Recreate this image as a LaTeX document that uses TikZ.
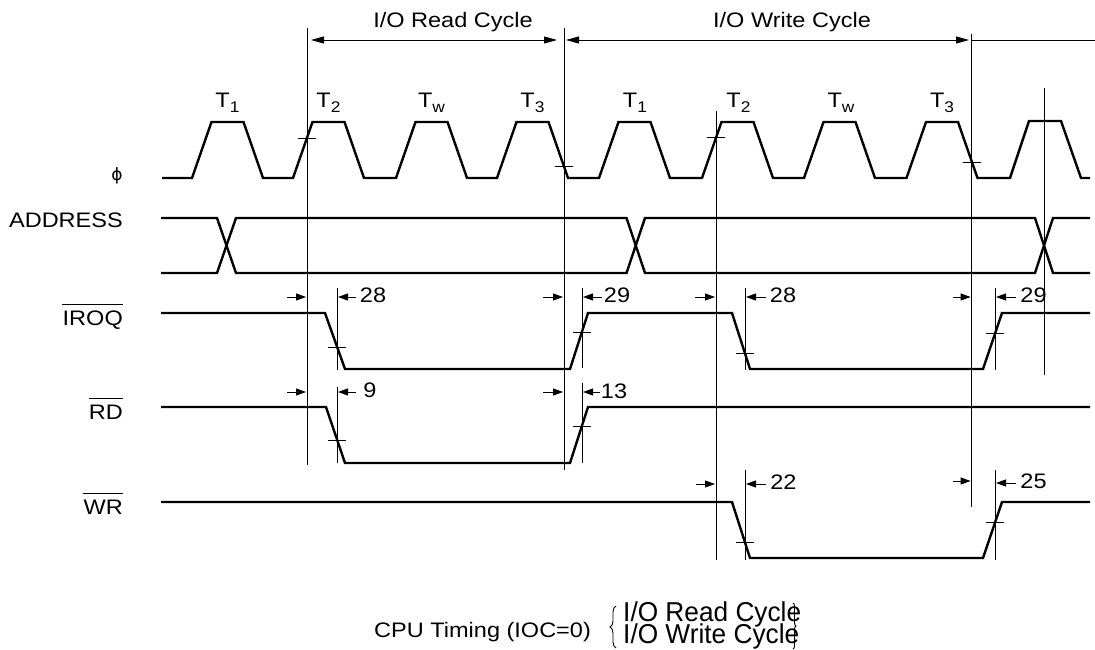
\documentclass[tikz,border=0pt]{standalone}
\usepackage{fontspec}
\setmainfont{Liberation Sans}[FakeStretch=1.12]
\newfontfamily\djv{DejaVu Sans}
\usetikzlibrary{arrows.meta,decorations.pathreplacing}
\newcommand\Tsub[1]{T\raisebox{-5pt}{\fontsize{15.5}{15.5}\selectfont #1}}
\begin{document}
\begin{tikzpicture}[x=1pt,y=-1pt,
  wave/.style={line width=2.4pt,line join=miter},
  thinln/.style={line width=0.9pt},
  tickln/.style={line width=0.9pt},
  tarrow/.style={line width=0.9pt,-{Triangle[length=10pt,width=7pt]}},
  carrow/.style={line width=0.9pt,{Triangle[length=13pt,width=7pt]}-{Triangle[length=13pt,width=7pt]}},
  lbl/.style={font=\fontsize{21}{21}\selectfont,inner sep=0pt},
  num/.style={font=\fontsize{21}{21}\selectfont,inner sep=0pt,anchor=center}]
\useasboundingbox (0,0) rectangle (1095,650);

% clock
\draw[wave] (162,178) foreach \r in {192,293,396,497,599,702,804,906.5} { -- (\r,178) -- ({\r+19.5},122) -- ({\r+51.5},122) -- ({\r+71},178) }
  -- (1010,178) -- (1029,121) -- (1061,121) -- (1081,178) -- (1090,178);
% address
\draw[wave] (161,218) -- (217,218) -- (236,273) -- (626.5,273) -- (645,218) -- (1035,218) -- (1053,273) -- (1090,273);
\draw[wave] (161,273) -- (217,273) -- (236,218) -- (626.5,218) -- (645,273) -- (1035,273) -- (1053,218) -- (1090,218);
% IORQ
\draw[wave] (161,313) -- (325,313) -- (345,369) -- (570,369) -- (588,313) -- (732,313) -- (750,369) -- (983,369) -- (1002,313) -- (1090,313);
% RD
\draw[wave] (161,407) -- (326,407) -- (345,463) -- (570,463) -- (588,407) -- (1090,407);
% WR
\draw[wave] (161,502) -- (732,502) -- (750,558) -- (983,558) -- (1002,502) -- (1090,502);

% long verticals
\draw[thinln] (307,28) -- (307,465);
\draw[thinln] (564,28) -- (564,470);
\draw[thinln] (716,111) -- (716,560);
\draw[thinln] (971.6,34) -- (971.6,507);
\draw[thinln] (1044,88) -- (1044,375);
% short verticals
\draw[thinln] (337,288) -- (337,370);
\draw[thinln] (582,288) -- (582,368);
\draw[thinln] (337,387) -- (337,463);
\draw[thinln] (582,383) -- (582,463);
\draw[thinln] (745,288) -- (745,370);
\draw[thinln] (995,288) -- (995,370);
\draw[thinln] (745,470) -- (745,560);
\draw[thinln] (995,470) -- (995,560);

% ticks
\foreach \x/\y in {307/138,564/166.5,716/137.5,971.6/162.5,337/347,582/332,745/353,995/333,337/440,582/426,745/542,995/522}
  \draw[tickln] ({\x-9},\y) -- ({\x+9},\y);

% cycle arrows
\draw[carrow] (311,40) -- (557,40);
\draw[carrow] (566,40) -- (969,40);
\draw[thinln] (972,40) -- (1095,40);
\node[lbl,anchor=base] (rc) at (453,28) {I/O Read Cycle};
\node[lbl,anchor=base] (wc) at (792,28) {I/O Write Cycle};

% T labels
\node[lbl,anchor=base] (t1) at (227.5,108) {\Tsub{1}};
\node[lbl,anchor=base] (t2) at (328.5,108) {\Tsub{2}};
\node[lbl,anchor=base] (t3) at (431.5,108) {\Tsub{w}};
\node[lbl,anchor=base] (t4) at (532.5,108) {\Tsub{3}};
\node[lbl,anchor=base] (t5) at (635,108) {\Tsub{1}};
\node[lbl,anchor=base] (t6) at (738.5,108) {\Tsub{2}};
\node[lbl,anchor=base] (t7) at (841,108) {\Tsub{w}};
\node[lbl,anchor=base] (t8) at (942,108) {\Tsub{3}};

% signal labels
\node[inner sep=0pt,font=\djv\fontsize{17}{17}\selectfont] (lphi) at (117,176) {ϕ};
\node[lbl,anchor=base east] (laddr) at (123,227) {ADDRESS};
\node[lbl,anchor=base east] (liorq) at (123,325) {IROQ};
\node[lbl,anchor=base east] (lrd) at (123,419) {RD};
\node[lbl,anchor=base east] (lwr) at (123,514) {WR};
\draw[thinln] ([yshift=6pt]liorq.north west) -- ([yshift=6pt]liorq.north east);
\draw[thinln] ([yshift=6pt]lrd.north west) -- ([yshift=6pt]lrd.north east);
\draw[thinln] ([yshift=6pt]lwr.north west) -- ([yshift=6pt]lwr.north east);

% timing arrows IORQ row
\draw[tarrow] (287,297) -- (306,297);
\draw[tarrow] (356,297) -- (338,297);
\node[num] (n28a) at (373,295) {28};
\draw[tarrow] (543,297) -- (563,297);
\draw[tarrow] (602,297) -- (583,297);
\node[num] (n29a) at (617,295) {29};
\draw[tarrow] (695,297) -- (715,297);
\draw[tarrow] (765.5,297) -- (746,297);
\node[num] (n28b) at (783,295) {28};
\draw[tarrow] (953,297) -- (970.6,297);
\draw[tarrow] (1016,297) -- (996,297);
\node[num] (n29b) at (1033.5,295) {29};
% RD row
\draw[tarrow] (287,392) -- (306,392);
\draw[tarrow] (356,392) -- (338,392);
\node[num] (n9) at (370,390) {9};
\draw[tarrow] (543,392) -- (563,392);
\draw[tarrow] (600,392) -- (583,392);
\node[num] (n13) at (614,391) {13};
% WR row
\draw[tarrow] (696,484) -- (715,484);
\draw[tarrow] (765.5,484) -- (746,484);
\node[num] (n22) at (783.4,482) {22};
\draw[tarrow] (952.5,481) -- (970.6,481);
\draw[tarrow] (1016,483) -- (996,483);
\node[num] (n25) at (1033.5,481) {25};

% caption
\node[lbl,anchor=base west] (cap) at (374,637) {CPU Timing (IOC=0)};
\draw[thinln,decorate,decoration={brace,amplitude=6pt}] (616,648) -- (616,606);
\node[lbl,anchor=base west] (cr) at (623,621) {\scalebox{1.116}[1.3]{I/O Read Cycle}};
\node[lbl,anchor=base west] (cw) at (623,643) {\scalebox{1.116}[1.3]{I/O Write Cycle}};
\draw[thinln,decorate,decoration={brace,amplitude=3pt}] (793,603) -- (793,649);
\end{tikzpicture}
\end{document}
